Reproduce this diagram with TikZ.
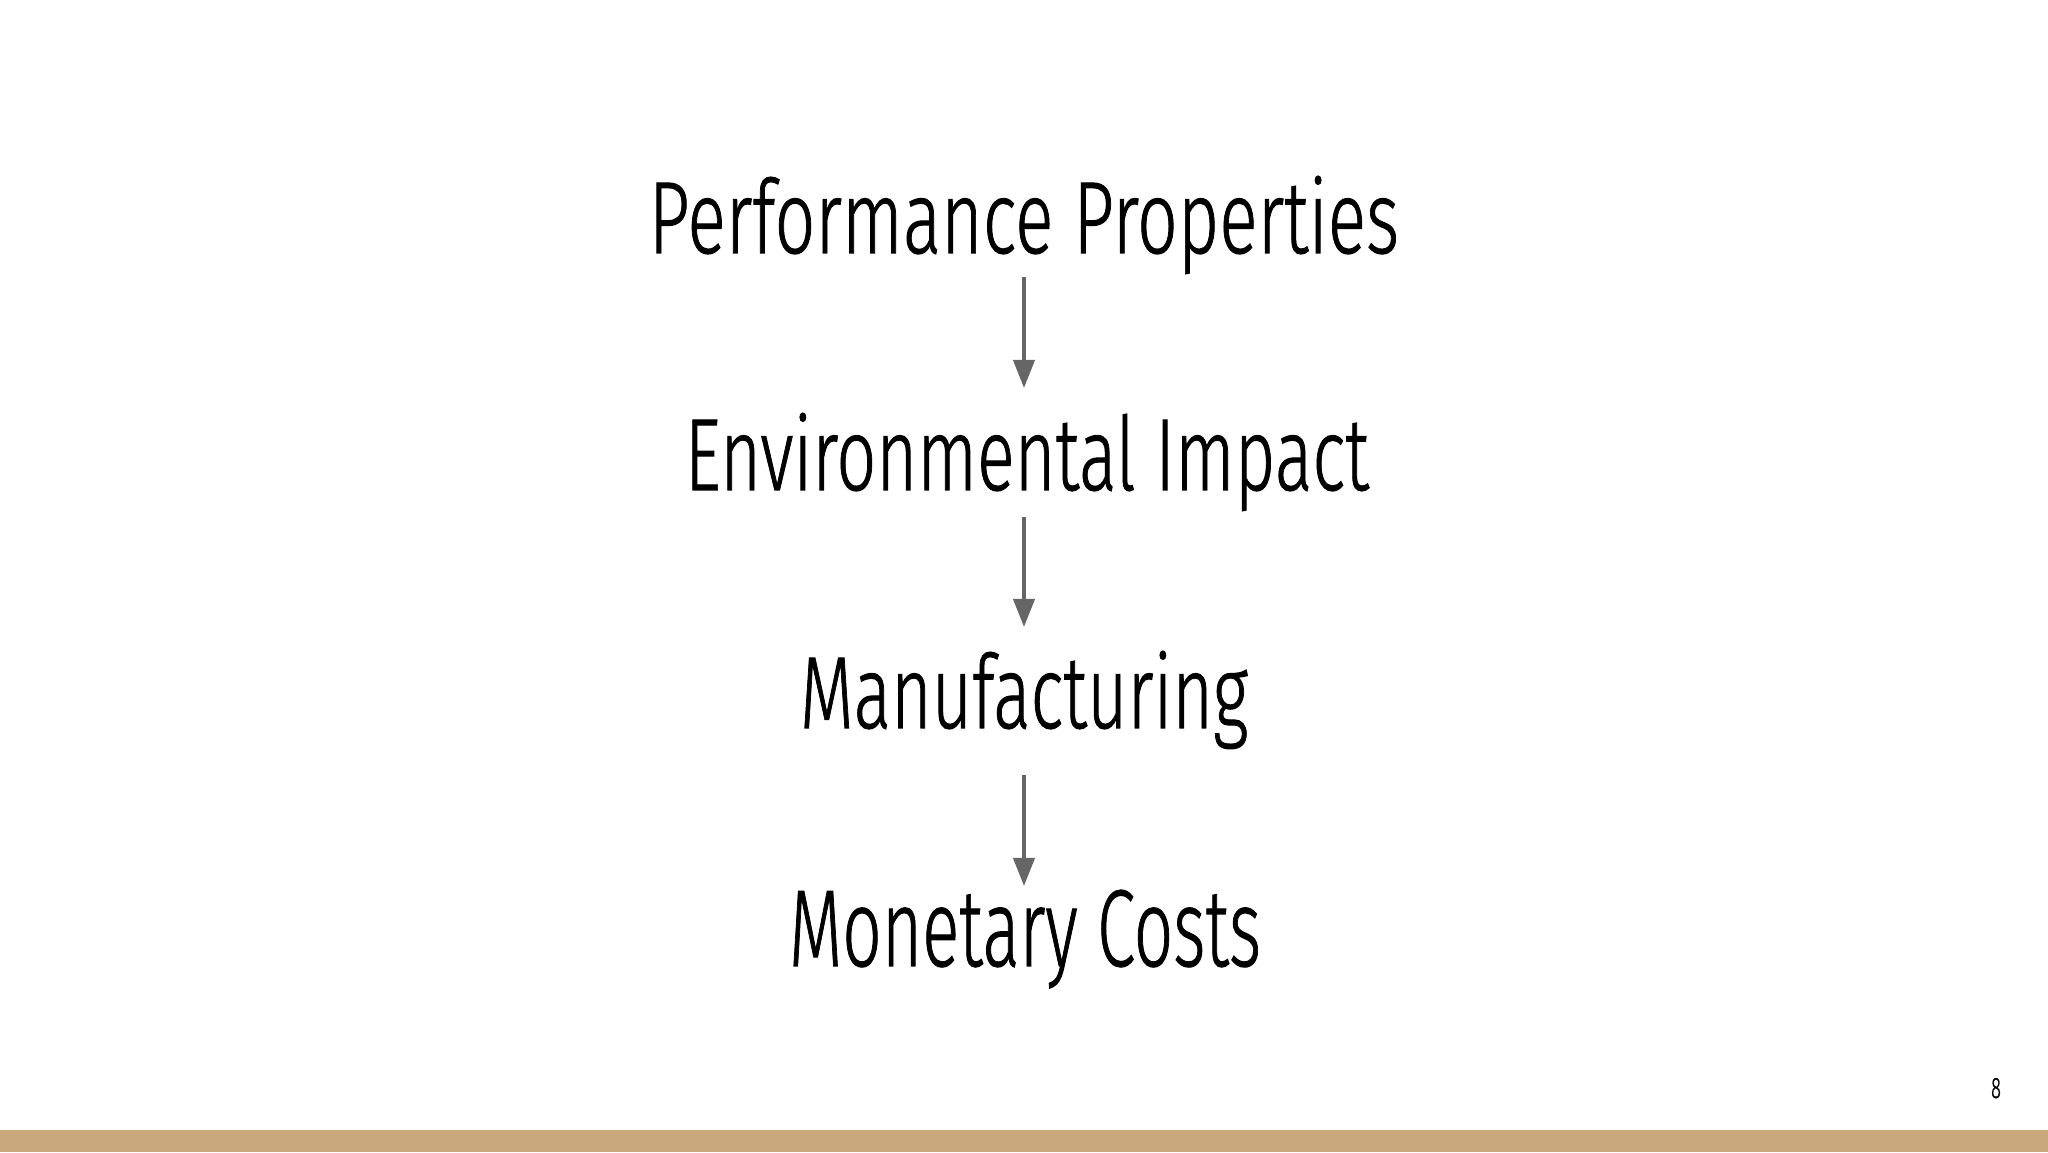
\documentclass[tikz,border=0pt]{standalone}
\usepackage{fontspec}
\setmainfont{Fira Sans Light}
\newfontfamily\slidefont{Fira Sans Light}[FakeBold=1]
\usepackage{graphicx}
\usetikzlibrary{arrows.meta}
\definecolor{bartan}{HTML}{C9A87C}
\definecolor{arrgray}{HTML}{666666}
\tikzset{
  lbl/.style={anchor=base, inner sep=0pt, outer sep=0pt, text=black, font=\slidefont},
  arr/.style={draw=arrgray, line width=4pt, -{Triangle[length=28pt,width=21pt]}},
}
\begin{document}
\begin{tikzpicture}[x=1pt,y=1pt]
  \useasboundingbox (0,0) rectangle (2048,1152);
  \fill[white] (0,0) rectangle (2048,1152);
  \fill[bartan] (0,0) rectangle (2048,22);

  \node[lbl] (pp) at (1024,899) {\resizebox{750pt}{77pt}{Performance Properties}};
  \node[lbl] (ei) at (1027,662) {\resizebox{684pt}{77pt}{Environmental Impact}};
  \node[lbl] (mf) at (1024,424) {\resizebox{448pt}{77pt}{Manufacturing}};
  \node[lbl] (mc) at (1025,186) {\resizebox{472pt}{76pt}{Monetary Costs}};

  \draw[arr] ([xshift=-3pt,yshift=-24pt]ei.base |- pp.base) -- ([xshift=-3pt,yshift=102pt]ei.base);
  \draw[arr] ([yshift=-27pt]mf.base |- ei.base) -- ([yshift=101pt]mf.base);
  \draw[arr] ([yshift=-47pt]mf.base) -- ([yshift=80pt]mf.base |- mc.base);

  \node[lbl] (pg) at (1996,1152-1098) {\resizebox{10pt}{20pt}{8}};
\end{tikzpicture}
\end{document}
